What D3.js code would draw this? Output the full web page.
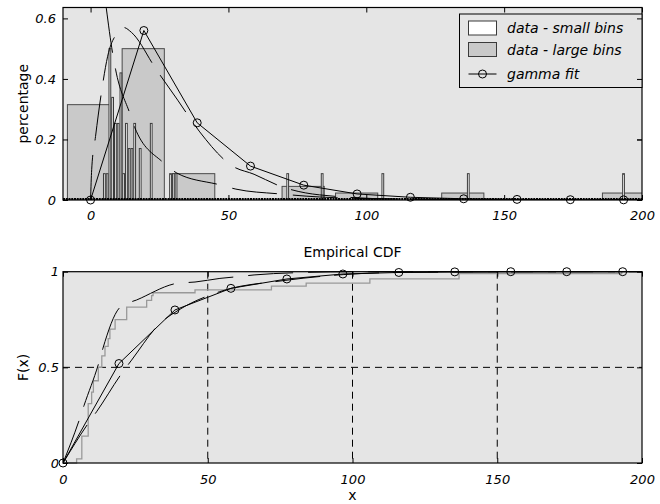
<!DOCTYPE html>
<html><head><meta charset="utf-8">
<script src="https://cdn.jsdelivr.net/npm/d3@7"></script>
<style>
body{margin:0;background:#fff}
text{font-family:"DejaVu Sans",sans-serif;fill:#000}
</style>
</head><body>
<svg id="c" width="660" height="504"></svg>
<script>
// ---------- data ----------
const gammaX   = [0,19.33,38.67,58,77.33,96.67,116,135.33,154.67,174,193.33];
const gammaPdf = [0,0.56,0.255,0.112,0.049,0.02,0.009,0.004,0.002,0.001,0.0005];
const gammaCdf = [0,0.52,0.80,0.913,0.962,0.988,0.996,0.999,1,1,1];

const largeBinX = [-0.75,19.1,37.4,57.8,77.1,96.5,115.8,135,154.5,173.9,193.3];
const largeBinH = [0.315,0.5,0.087,0,0.045,0.023,0,0.023,0,0,0.023];
const largeBinWidth = 15.3;

const smallBinX = [5,6,7,8,9,10,11,12,13,14,15,16,18,22,29,30,31,71.5,84,106,137,193.3];
const smallBinH = [0.087,0.087,0.5,0.339,0.253,0.253,0.42,0.087,0.253,0.17,0.17,0.253,0.17,0.253,0.087,0.087,0.087,0.087,0.087,0.087,0.087,0.087];
const smallBinWidth = 1;

// dashed fitted density curves (top)
const pdfAX = [0,0.4,1.8,3.9,6.2,9.5,12,14.8,23.9,31.6,39.6,51.3,59.3,68.7,83,112,200];
const pdfAY = [0,0.1,0.21,0.353,0.475,0.55,0.57,0.554,0.43,0.33,0.225,0.113,0.085,0.046,0.017,0.003,0];
const pdfBX = [5.7,8,9.1,14.2,16,26.2,31.3,46.9,52.7,68.7,83,112,200];
const pdfBY = [0.634,0.485,0.43,0.287,0.24,0.125,0.089,0.05,0.036,0.02,0.01,0.003,0];

// empirical CDF
const ecdfX = [0,4.7,6.5,8.7,9.9,10.5,12.2,13.4,14.5,15.6,16.2,18,22,28.9,30.6,31.1,45.6,72,84,106,136.8,193,200];
const ecdfF = [0,0.022,0.14,0.31,0.37,0.43,0.5,0.56,0.61,0.65,0.70,0.75,0.815,0.85,0.875,0.89,0.905,0.925,0.94,0.962,0.99,1,1];

// dashed fitted CDF curves (bottom)
const cdfAX = [0,5.5,7.25,12.5,13.8,19.9,25.4,39.7,45.6,54.2,61,66,81,100,200];
const cdfAY = [0,0.22,0.30,0.53,0.60,0.817,0.852,0.94,0.946,0.965,0.975,0.983,0.995,1,1];
const cdfBX = [0,8.7,11.6,20.3,23.7,33.5,40,54,77,97,120,200];
const cdfBY = [0,0.207,0.268,0.469,0.538,0.73,0.80,0.895,0.955,0.985,0.997,1];

const xTicks = [0,50,100,150,200];
const yTicksTop = [0,0.2,0.4,0.6];
const yTicksBot = [0,0.5,1];
const legendLabels = ["data - small bins","data - large bins","gamma fit"];

// ---------- layout ----------
const svg = d3.select("#c");
const L = 63, R = 642;
const T1 = 7.5, B1 = 200, T2 = 271.7, B2 = 463;

const x1 = d3.scaleLinear().domain([-10,200]).range([L,R]);
const y1 = d3.scaleLinear().domain([0,0.636]).range([B1,T1]);
const x2 = d3.scaleLinear().domain([0,200]).range([L,R]);
const y2 = d3.scaleLinear().domain([0,1]).range([B2,T2]);

const defs = svg.append("defs");
defs.append("clipPath").attr("id","cp1").append("rect").attr("x",L).attr("y",T1).attr("width",R-L).attr("height",B1-T1);
defs.append("clipPath").attr("id","cp2").append("rect").attr("x",L).attr("y",T2-4).attr("width",R-L+4).attr("height",B2-T2+8);

const zip = (a,b)=>a.map((v,i)=>[v,b[i]]);
function styleAxis(a){
  a.select(".domain").remove();
  a.selectAll("line").attr("stroke","#000");
  a.selectAll("text").style("font-family","'DejaVu Sans',sans-serif").style("font-style","italic").style("font-size","13px").attr("fill","#000");
}

// ================= TOP PLOT =================
svg.append("rect").attr("x",L).attr("y",T1).attr("width",R-L).attr("height",B1-T1).attr("fill","#e5e5e5");
const g1 = svg.append("g").attr("clip-path","url(#cp1)");

g1.selectAll("rect.large").data(zip(largeBinX,largeBinH)).join("rect")
  .attr("x",d=>x1(d[0]-largeBinWidth/2)).attr("width",d=>x1(d[0]+largeBinWidth/2)-x1(d[0]-largeBinWidth/2))
  .attr("y",d=>y1(d[1])).attr("height",d=>y1(0)-y1(d[1]))
  .attr("fill","#c9c9c9").attr("stroke","#4a4a4a").attr("stroke-width",1);

g1.selectAll("rect.small").data(zip(smallBinX,smallBinH)).join("rect")
  .attr("x",d=>x1(d[0]-smallBinWidth/2)+0.5).attr("width",d=>x1(d[0]+smallBinWidth/2)-x1(d[0]-smallBinWidth/2)-1)
  .attr("y",d=>y1(d[1])).attr("height",d=>y1(0)-y1(d[1]))
  .attr("fill","#ffffff").attr("stroke","#3a3a3a").attr("stroke-width",1);

const lineTop = d3.line().x(d=>x1(d[0])).y(d=>y1(d[1]));
const smoothTop = d3.line().x(d=>x1(d[0])).y(d=>y1(d[1])).curve(d3.curveMonotoneX);
g1.append("path").attr("d",smoothTop(zip(pdfAX,pdfAY))).attr("fill","none").attr("stroke","#000").attr("stroke-width",1).attr("stroke-dasharray","45,15");
g1.append("path").attr("d",smoothTop(zip(pdfBX,pdfBY))).attr("fill","none").attr("stroke","#000").attr("stroke-width",1).attr("stroke-dasharray","45,16");

// baseline texture
g1.append("line").attr("x1",x1(-10)).attr("x2",x1(200)).attr("y1",y1(0)-1).attr("y2",y1(0)-1)
  .attr("stroke","#000").attr("stroke-width",2).attr("stroke-dasharray","2,0.75");

g1.append("path").attr("d",lineTop(zip(gammaX,gammaPdf))).attr("fill","none").attr("stroke","#000").attr("stroke-width",1);
svg.append("g").selectAll("circle").data(zip(gammaX,gammaPdf)).join("circle")
  .attr("cx",d=>x1(d[0])).attr("cy",d=>y1(d[1])).attr("r",4).attr("fill","none").attr("stroke","#000").attr("stroke-width",1);

// axes top
const ax1b = svg.append("g").attr("transform",`translate(0,${B1})`).call(d3.axisBottom(x1).tickValues(xTicks).tickSize(-5).tickPadding(11));
const ax1l = svg.append("g").attr("transform",`translate(${L},0)`).call(d3.axisLeft(y1).tickValues(yTicksTop).tickSize(-5).tickPadding(7).tickFormat(d=>d===0?"0":d3.format(".1f")(d)));
const ax1t = svg.append("g").attr("transform",`translate(0,${T1})`).call(d3.axisTop(x1).tickValues(xTicks).tickSize(-5).tickFormat(""));
const ax1r = svg.append("g").attr("transform",`translate(${R},0)`).call(d3.axisRight(y1).tickValues(yTicksTop).tickSize(-5).tickFormat(""));
[ax1b,ax1l,ax1t,ax1r].forEach(styleAxis);
svg.append("rect").attr("x",L).attr("y",T1).attr("width",R-L).attr("height",B1-T1).attr("fill","none").attr("stroke","#000").attr("stroke-width",1.2);

svg.append("text").attr("transform",`translate(24,${(T1+B1)/2}) rotate(-90)`).attr("text-anchor","middle")
  .attr("dominant-baseline","middle").style("font-size","14px").text("percentage");

// legend
const lg = svg.append("g");
const lgX = 459.5, lgY = 14, lgW = R-459.5, lgH = 73.5;
lg.append("rect").attr("x",lgX).attr("y",lgY).attr("width",lgW).attr("height",lgH).attr("fill","#e5e5e5").attr("stroke","#000").attr("stroke-width",1);
const rowY = [28, 49.5, 74];
lg.append("rect").attr("x",468.5).attr("y",rowY[0]-7).attr("width",28).attr("height",14).attr("fill","#fff").attr("stroke","#3a3a3a");
lg.append("rect").attr("x",468.5).attr("y",rowY[1]-7).attr("width",28).attr("height",14).attr("fill","#c9c9c9").attr("stroke","#3a3a3a");
lg.append("line").attr("x1",468.5).attr("x2",496.5).attr("y1",rowY[2]).attr("y2",rowY[2]).attr("stroke","#000");
lg.append("circle").attr("cx",482.5).attr("cy",rowY[2]).attr("r",4).attr("fill","none").attr("stroke","#000");
lg.selectAll("text").data(legendLabels).join("text")
  .attr("x",507).attr("y",(d,i)=>rowY[i]+5).style("font-size","14px").style("font-style","italic").text(d=>d);
// right-axis ticks drawn over legend
svg.append("g").attr("transform",`translate(${R},0)`).call(d3.axisRight(y1).tickValues(yTicksTop).tickSize(-5).tickFormat("")).call(styleAxis);

// ================= BOTTOM PLOT =================
svg.append("rect").attr("x",L).attr("y",T2).attr("width",R-L).attr("height",B2-T2).attr("fill","#e5e5e5");
const g2 = svg.append("g").attr("clip-path","url(#cp2)");

// grid
g2.selectAll("line.gx").data([50,100,150]).join("line")
  .attr("x1",d=>x2(d)).attr("x2",d=>x2(d)).attr("y1",T2).attr("y2",B2)
  .attr("stroke","#000").attr("stroke-width",1).attr("stroke-dasharray","7,5");
g2.selectAll("line.gy").data([0.5]).join("line")
  .attr("x1",L).attr("x2",R).attr("y1",d=>y2(d)).attr("y2",d=>y2(d))
  .attr("stroke","#000").attr("stroke-width",1).attr("stroke-dasharray","7,5");

const stepLine = d3.line().x(d=>x2(d[0])).y(d=>y2(d[1])).curve(d3.curveStepAfter);
g2.append("path").attr("d",stepLine(zip(ecdfX,ecdfF))).attr("fill","none").attr("stroke","#999").attr("stroke-width",1.3);

const smoothBot = d3.line().x(d=>x2(d[0])).y(d=>y2(d[1])).curve(d3.curveMonotoneX);
g2.append("path").attr("d",smoothBot(zip(cdfAX,cdfAY))).attr("fill","none").attr("stroke","#000").attr("stroke-width",1).attr("stroke-dasharray","45,15");
g2.append("path").attr("d",smoothBot(zip(cdfBX,cdfBY))).attr("fill","none").attr("stroke","#000").attr("stroke-width",1).attr("stroke-dasharray","45,14");

const lineBot = d3.line().x(d=>x2(d[0])).y(d=>y2(d[1]));
g2.append("path").attr("d",lineBot(zip(gammaX,gammaCdf))).attr("fill","none").attr("stroke","#000").attr("stroke-width",1);
svg.append("g").selectAll("circle").data(zip(gammaX,gammaCdf)).join("circle")
  .attr("cx",d=>x2(d[0])).attr("cy",d=>y2(d[1])).attr("r",4).attr("fill","none").attr("stroke","#000").attr("stroke-width",1);

const ax2b = svg.append("g").attr("transform",`translate(0,${B2})`).call(d3.axisBottom(x2).tickValues(xTicks).tickSize(-5).tickPadding(12));
const ax2l = svg.append("g").attr("transform",`translate(${L},0)`).call(d3.axisLeft(y2).tickValues(yTicksBot).tickSize(-5).tickPadding(4).tickFormat(d=>d===0.5?"0.5":String(d)));
const ax2t = svg.append("g").attr("transform",`translate(0,${T2})`).call(d3.axisTop(x2).tickValues(xTicks).tickSize(-5).tickFormat(""));
const ax2r = svg.append("g").attr("transform",`translate(${R},0)`).call(d3.axisRight(y2).tickValues(yTicksBot).tickSize(-5).tickFormat(""));
[ax2b,ax2l,ax2t,ax2r].forEach(styleAxis);
svg.append("rect").attr("x",L).attr("y",T2).attr("width",R-L).attr("height",B2-T2).attr("fill","none").attr("stroke","#000").attr("stroke-width",1.2);

svg.append("text").attr("x",(L+R)/2).attr("y",257).attr("text-anchor","middle").style("font-size","14px").text("Empirical CDF");
svg.append("text").attr("x",(L+R)/2).attr("y",500).attr("text-anchor","middle").style("font-size","14px").text("x");
svg.append("text").attr("transform",`translate(24,${(T2+B2)/2}) rotate(-90)`).attr("text-anchor","middle")
  .attr("dominant-baseline","middle").style("font-size","14px").text("F(x)");
</script>
</body></html>
